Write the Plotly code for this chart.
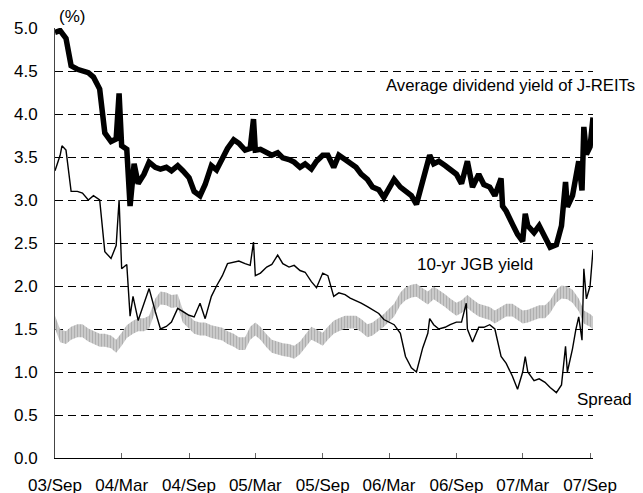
import plotly.graph_objects as go
import pandas as pd

# semi-monthly observation grid (plus the last observed day)
dates = [
    "2003-09-01", "2003-09-15", "2003-10-01", "2003-10-15", "2003-11-01", "2003-11-15", "2003-12-01", "2003-12-15",
    "2004-01-01", "2004-01-15", "2004-02-01", "2004-02-15", "2004-03-01", "2004-03-15", "2004-04-01", "2004-04-15",
    "2004-05-01", "2004-05-15", "2004-06-01", "2004-06-15", "2004-07-01", "2004-07-15", "2004-08-01", "2004-08-15",
    "2004-09-01", "2004-09-15", "2004-10-01", "2004-10-15", "2004-11-01", "2004-11-15", "2004-12-01", "2004-12-15",
    "2005-01-01", "2005-01-15", "2005-02-01", "2005-02-15", "2005-03-01", "2005-03-15", "2005-04-01", "2005-04-15",
    "2005-05-01", "2005-05-15", "2005-06-01", "2005-06-15", "2005-07-01", "2005-07-15", "2005-08-01", "2005-08-15",
    "2005-09-01", "2005-09-15", "2005-10-01", "2005-10-15", "2005-11-01", "2005-11-15", "2005-12-01", "2005-12-15",
    "2006-01-01", "2006-01-15", "2006-02-01", "2006-02-15", "2006-03-01", "2006-03-15", "2006-04-01", "2006-04-15",
    "2006-05-01", "2006-05-15", "2006-06-01", "2006-06-15", "2006-07-01", "2006-07-15", "2006-08-01", "2006-08-15",
    "2006-09-01", "2006-09-15", "2006-10-01", "2006-10-15", "2006-11-01", "2006-11-15", "2006-12-01", "2006-12-15",
    "2007-01-01", "2007-01-15", "2007-02-01", "2007-02-15", "2007-03-01", "2007-03-15", "2007-04-01", "2007-04-15",
    "2007-05-01", "2007-05-15", "2007-06-01", "2007-06-15", "2007-07-01", "2007-07-15", "2007-08-01", "2007-08-15",
    "2007-09-01", "2007-09-09",
]

# Average dividend yield of J-REITs (%)
reit = [
    4.95, 4.97, 4.88, 4.56, 4.52, 4.50, 4.48, 4.43, 4.29, 3.78, 3.68, 3.71, 3.63, 3.59, 3.22, 3.19,
    3.30, 3.44, 3.38, 3.36, 3.38, 3.34, 3.40, 3.34, 3.26, 3.10, 3.05, 3.18, 3.40, 3.35, 3.50, 3.60,
    3.70, 3.66, 3.58, 3.60, 3.58, 3.59, 3.56, 3.52, 3.55, 3.49, 3.47, 3.44, 3.38, 3.42, 3.36, 3.45,
    3.52, 3.52, 3.38, 3.52, 3.47, 3.42, 3.38, 3.30, 3.24, 3.15, 3.12, 3.03, 3.15, 3.24, 3.15, 3.10,
    3.05, 2.95, 3.20, 3.40, 3.42, 3.45, 3.40, 3.36, 3.30, 3.19, 3.45, 3.15, 3.30, 3.18, 3.15, 3.05,
    3.25, 2.87, 2.72, 2.60, 2.52, 2.70, 2.62, 2.70, 2.55, 2.45, 2.48, 2.70, 2.92, 3.05, 3.45, 3.85,
    3.62, 3.96,
]
reit_extra_dates = ["2004-02-23", "2004-03-24", "2004-04-04", "2005-02-24", "2006-06-20",
                    "2007-01-05", "2007-03-08", "2007-06-26", "2007-08-10", "2007-08-22"]
reit_extra_vals = [4.24, 2.93, 3.42, 3.94, 3.52, 2.93, 2.84, 3.21, 3.11, 3.53]

# Spread (%)
spread = [
    3.34, 3.52, 3.58, 3.10, 3.10, 3.08, 3.00, 3.05, 3.00, 2.40, 2.32, 2.47, 2.20, 2.25, 1.88, 1.60,
    1.80, 1.97, 1.70, 1.50, 1.53, 1.58, 1.74, 1.70, 1.66, 1.64, 1.80, 1.62, 1.88, 2.00, 2.12, 2.26,
    2.28, 2.29, 2.26, 2.24, 2.12, 2.15, 2.22, 2.25, 2.36, 2.26, 2.22, 2.24, 2.18, 2.16, 2.05, 1.98,
    2.15, 2.12, 1.88, 1.92, 1.90, 1.86, 1.83, 1.80, 1.76, 1.72, 1.68, 1.61, 1.58, 1.55, 1.45, 1.18,
    1.05, 1.00, 1.28, 1.45, 1.55, 1.50, 1.52, 1.55, 1.58, 1.58, 1.50, 1.35, 1.52, 1.52, 1.55, 1.50,
    1.18, 1.10, 0.95, 0.80, 1.00, 1.00, 0.90, 0.92, 0.88, 0.82, 0.76, 0.85, 1.00, 1.27, 1.64, 2.20,
    2.00, 2.42,
]
spread_extra_dates = ["2003-09-20", "2004-02-23", "2004-03-24", "2005-02-24", "2006-06-20", "2006-09-28",
                      "2007-03-08", "2007-06-26", "2007-07-24", "2007-08-10", "2007-08-22"]
spread_extra_vals = [3.63, 3.00, 1.65, 2.51, 1.62, 1.80, 1.18, 1.30, 1.49, 1.37, 1.85]

# 10-yr JGB yield (%)
jgb = [
    1.58, 1.42, 1.40, 1.45, 1.48, 1.48, 1.43, 1.40, 1.37, 1.37, 1.35, 1.30, 1.38, 1.47, 1.52, 1.55,
    1.55, 1.58, 1.78, 1.86, 1.85, 1.82, 1.83, 1.65, 1.58, 1.52, 1.50, 1.50, 1.47, 1.46, 1.44, 1.40,
    1.37, 1.33, 1.33, 1.45, 1.50, 1.45, 1.36, 1.30, 1.28, 1.26, 1.25, 1.23, 1.28, 1.36, 1.45, 1.42,
    1.38, 1.45, 1.52, 1.55, 1.58, 1.58, 1.58, 1.54, 1.48, 1.50, 1.55, 1.60, 1.66, 1.72, 1.85, 1.91,
    1.94, 1.95, 1.90, 1.86, 1.92, 1.88, 1.83, 1.78, 1.73, 1.76, 1.82, 1.77, 1.72, 1.70, 1.68, 1.64,
    1.68, 1.72, 1.72, 1.68, 1.64, 1.65, 1.68, 1.70, 1.70, 1.76, 1.88, 1.93, 1.92, 1.88, 1.78, 1.64,
    1.60, 1.57,
]

tick_dates = ["2003-09-01", "2004-03-01", "2004-09-01", "2005-03-01", "2005-09-01",
              "2006-03-01", "2006-09-01", "2007-03-01", "2007-09-01"]
tick_labels = ["03/Sep", "04/Mar", "04/Sep", "05/Mar", "05/Sep", "06/Mar", "06/Sep", "07/Mar", "07/Sep"]


def merged(base_vals, extra_dates, extra_vals):
    s = pd.Series(base_vals, index=pd.to_datetime(dates))
    e = pd.Series(extra_vals, index=pd.to_datetime(extra_dates))
    return pd.concat([s, e]).sort_index()


reit_s = merged(reit, reit_extra_dates, reit_extra_vals)
spread_s = merged(spread, spread_extra_dates, spread_extra_vals)
jgb_s = pd.Series(jgb, index=pd.to_datetime(dates))

FONT = "Liberation Sans, Arial, sans-serif"
BAND = 0.075  # half thickness of the hatched JGB band, in %

fig = go.Figure()
# JGB yield: hatched grey band
fig.add_trace(go.Scatter(x=jgb_s.index, y=jgb_s.values - BAND, mode="lines",
                         line=dict(width=0, color="rgba(0,0,0,0)"), hoverinfo="skip", showlegend=False))
fig.add_trace(go.Scatter(x=jgb_s.index, y=jgb_s.values + BAND, mode="lines", fill="tonexty",
                         fillcolor="#d0d0d0",
                         fillpattern=dict(shape="|", size=3, solidity=0.55, fgcolor="#878787", bgcolor="#d6d6d6"),
                         line=dict(width=0, color="rgba(0,0,0,0)"), name="10-yr JGB yield", showlegend=False))
# Spread: thin black
fig.add_trace(go.Scatter(x=spread_s.index, y=spread_s.values, mode="lines",
                         line=dict(color="black", width=1.4), name="Spread", showlegend=False))
# J-REIT dividend yield: thick black
fig.add_trace(go.Scatter(x=reit_s.index, y=reit_s.values, mode="lines",
                         line=dict(color="black", width=5.5, shape="linear"),
                         name="Average dividend yield of J-REITs", showlegend=False))

fig.update_layout(
    width=643, height=485,
    margin=dict(l=47, r=58, t=20, b=35, autoexpand=False),
    paper_bgcolor="white", plot_bgcolor="white",
    font=dict(family=FONT, size=17, color="black"),
    xaxis=dict(type="date", range=["2003-09-01", "2007-09-09"], automargin=False,
               tickmode="array", tickvals=tick_dates, ticktext=tick_labels,
               ticks="inside", ticklen=5, tickcolor="#666", tickwidth=1,
               showline=True, linecolor="black", linewidth=1.2, showgrid=False, zeroline=False,
               ticklabelstandoff=11, tickfont=dict(family=FONT, size=17, color="black")),
    yaxis=dict(range=[0, 5], dtick=0.5, tick0=0, tickformat=".1f", automargin=False,
               showgrid=True, gridcolor="black", gridwidth=1, griddash="8px,5px",
               showline=True, linecolor="#444", linewidth=1, zeroline=False, ticks="",
               ticklabelstandoff=13, tickfont=dict(family=FONT, size=17, color="black")),
    annotations=[
        dict(text="(%)", xref="paper", yref="paper", x=0.032, y=1.026, xanchor="center", yanchor="middle",
             showarrow=False, font=dict(family=FONT, size=17, color="black")),
        dict(text="Average dividend yield of J-REITs", xref="paper", yref="paper", x=0.612, y=0.867,
             xanchor="left", yanchor="middle", showarrow=False, font=dict(family=FONT, size=16.7, color="black")),
        dict(text="10-yr JGB yield", xref="paper", yref="paper", x=0.669, y=0.449,
             xanchor="left", yanchor="middle", showarrow=False, font=dict(family=FONT, size=17, color="black")),
        dict(text="Spread", xref="paper", yref="paper", x=0.967, y=0.135,
             xanchor="left", yanchor="middle", showarrow=False, font=dict(family=FONT, size=17, color="black")),
    ],
)

fig.write_html("out.html")
